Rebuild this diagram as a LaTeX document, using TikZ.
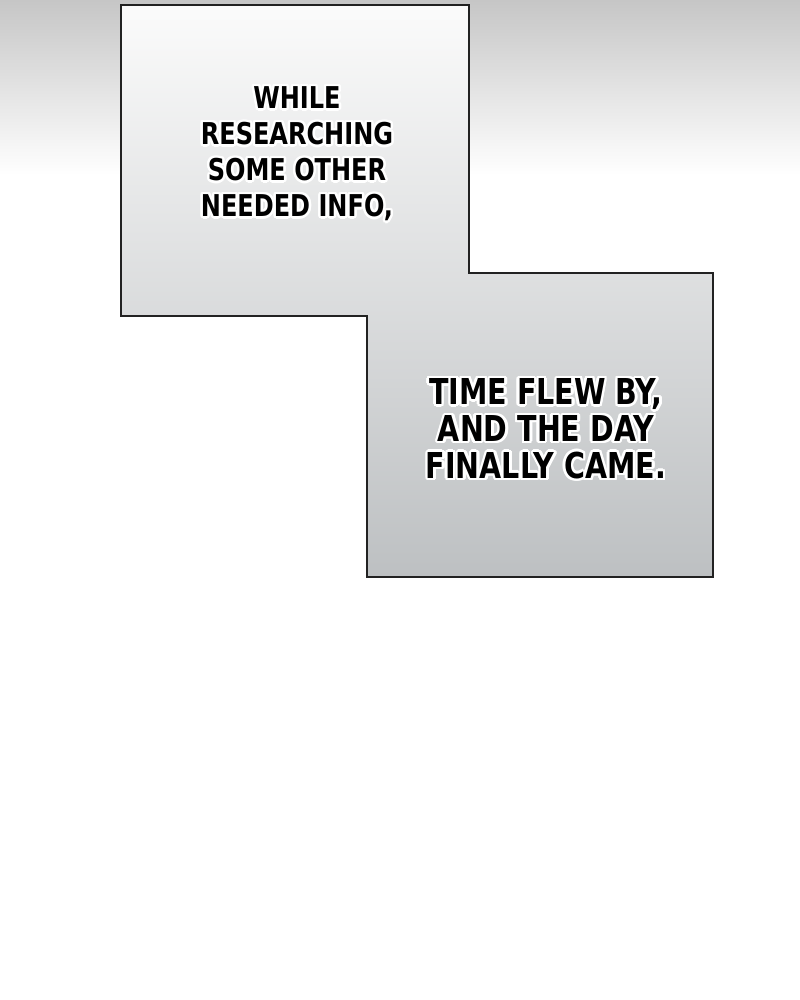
\documentclass[tikz,border=0pt]{standalone}
\usepackage{fontspec}
\usepackage[copies]{contour}
\newfontfamily\comicfont[FakeStretch=0.8]{DejaVu Sans Bold}
\contourlength{1.4pt}
\newcommand{\outl}[1]{\contour{white}{#1}}
\definecolor{bgtop}{HTML}{C6C6C6}
\definecolor{boxtop}{HTML}{FBFBFB}
\definecolor{boxbot}{HTML}{BDC0C2}
\definecolor{boxline}{HTML}{222222}
\tikzset{caption/.style={align=center,inner sep=0pt,text=black}}

\begin{document}
\begin{tikzpicture}[x=0.02cm,y=-0.02cm]
\useasboundingbox (0,0) rectangle (800,1000);
\shade[top color=bgtop,bottom color=white] (0,0) rectangle (800,175);
\fill[white] (0,175) rectangle (800,1000);

\coordinate(p1) at (121,5);
\coordinate(p2) at (469,5);
\coordinate(p3) at (469,273);
\coordinate(p4) at (713,273);
\coordinate(p5) at (713,577);
\coordinate(p6) at (367,577);
\coordinate(p7) at (367,316);
\coordinate(p8) at (121,316);
\shade[top color=boxtop,bottom color=boxbot,draw=boxline,line width=1.1pt]
  (p1) -- (p2) -- (p3) -- (p4) -- (p5) -- (p6) -- (p7) -- (p8) -- cycle;

\node[caption,font=\comicfont\fontsize{17.1}{20.5}\selectfont] (t1) at (297,155)
  {\outl{WHILE}\\\outl{RESEARCHING}\\\outl{SOME OTHER}\\\outl{NEEDED INFO,}};
\node[caption,font=\comicfont\fontsize{20.3}{21}\selectfont] (t2) at (546,430)
  {\outl{TIME FLEW BY,}\\\outl{AND THE DAY}\\\outl{FINALLY CAME.}};
\end{tikzpicture}
\end{document}
